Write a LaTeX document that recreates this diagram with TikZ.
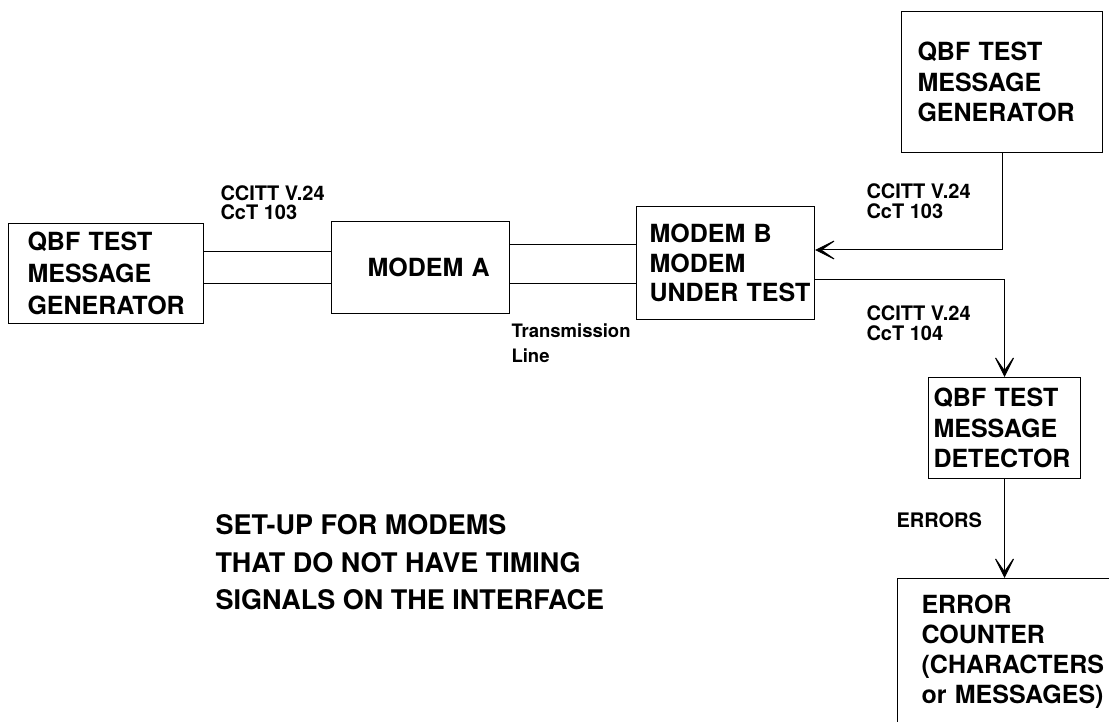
\documentclass[tikz,border=0pt]{standalone}
\usepackage{fontspec}
\setmainfont{TeX Gyre Heros}
\usetikzlibrary{arrows.meta}
\begin{document}
\begin{tikzpicture}[x=1pt,y=-1pt,line width=1pt,
  box/.style={draw,align=left,inner ysep=0pt,anchor=north west,
    font=\bfseries\fontsize{25}{30}\selectfont},
  lbl/.style={align=left,inner sep=0pt,anchor=west,
    font=\bfseries\fontsize{20}{19.5}\selectfont},
  arr/.style={-{Stealth[length=25pt,width=25pt,inset=18pt]}}]
\useasboundingbox (0,0) rectangle (1109,722);
\fill[white] (0,0) rectangle (1109,722);

% boxes
\node[box,minimum width=195pt,minimum height=100pt,text width=157pt,inner xsep=19pt,
  font=\bfseries\fontsize{25}{32}\selectfont] (lg) at (8,223) {QBF~TEST\\MESSAGE\\GENERATOR};
\node[box,minimum width=178pt,minimum height=92pt,text width=106pt,inner xsep=36pt] (ma) at (331,221) {MODEM~A};
\node[box,minimum width=178pt,minimum height=113pt,text width=152pt,inner xsep=13pt,
  font=\bfseries\fontsize{25}{29.5}\selectfont] (mb) at (636,206) {MODEM~B\\MODEM\\UNDER~TEST};
\node[box,minimum width=201pt,minimum height=141pt,text width=169pt,inner xsep=16pt,
  font=\bfseries\fontsize{25}{30.5}\selectfont] (tg) at (901,11) {QBF~TEST\\MESSAGE\\GENERATOR};
\node[box,minimum width=152pt,minimum height=101pt,text width=142pt,inner xsep=5pt,
  font=\bfseries\fontsize{25}{30.5}\selectfont] (det) at (928,377) {QBF~TEST\\MESSAGE\\DETECTOR};
\node[box,minimum width=260pt,text width=212pt,inner xsep=24pt,inner ysep=16pt,
  font=\bfseries\fontsize{25}{30.3}\selectfont] (cnt) at (897,578)
  {ERROR\\COUNTER\\(CHARACTERS\\or~MESSAGES)\\\rule{0pt}{100pt}};

% labels
\node[lbl] (l1) at (220,202.5) {CCITT V.24\\CcT 103};
\node[lbl] (l2) at (866,201) {CCITT V.24\\CcT 103};
\node[lbl] (l3) at (866,323) {CCITT V.24\\CcT 104};
\node[lbl,font=\bfseries\fontsize{18.5}{25}\selectfont] (tl) at (511,343.5) {Transmission\\Line};
\node[lbl] (er) at (896,520) {ERRORS};
\node[lbl,font=\bfseries\fontsize{27}{37.5}\selectfont] (title) at (215,562.5)
  {SET-UP FOR MODEMS\\THAT DO NOT HAVE TIMING\\SIGNALS ON THE INTERFACE};

% connectors
\draw (lg.east |- 0,252) -- (ma.west |- 0,252);
\draw (lg.east |- 0,284) -- (ma.west |- 0,284);
\draw (ma.east |- 0,245) -- (mb.west |- 0,245);
\draw (ma.east |- 0,284) -- (mb.west |- 0,284);
\draw[arr] (tg.south) |- (mb.east |- 0,250);
\draw[arr] (mb.east |- 0,280) -| (det.north);
\draw[arr] (det.south) -- (det.south |- cnt.north);
\end{tikzpicture}
\end{document}
